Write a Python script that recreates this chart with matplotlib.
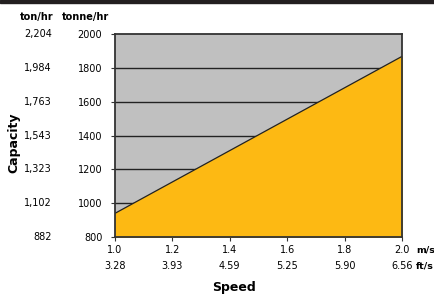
import numpy as np
import matplotlib.pyplot as plt
import matplotlib.transforms as mtrans
from matplotlib.patches import Rectangle

# data
speed_ms = [1.0, 1.2, 1.4, 1.6, 1.8, 2.0]
speed_fts = ['3.28', '3.93', '4.59', '5.25', '5.90', '6.56']
tonne_ticks = [800, 1000, 1200, 1400, 1600, 1800, 2000]
ton_labels = ['882', '1,102', '1,323', '1,543', '1,763', '1,984', '2,204']
line_x = [1.0, 2.0]
line_y = [940, 1868]

plt.rcParams['font.family'] = 'DejaVu Sans'
fs = 7

fig = plt.figure(figsize=(4.35, 2.99), dpi=100)
ax = fig.add_axes([0.264, 0.207, 0.66, 0.679])

ax.set_facecolor('#c0c0c0')
ax.fill_between(line_x, line_y, 800, color='#fdb913', zorder=3)
ax.plot(line_x, line_y, color='#222222', lw=0.9, zorder=4)
for v in tonne_ticks[1:-1]:
    ax.axhline(v, color='#222222', lw=1.0, zorder=2)

ax.set_xlim(1.0, 2.0)
ax.set_ylim(800, 2000)

for s in ['left', 'top', 'right', 'bottom']:
    ax.spines[s].set_color('#333333')
    ax.spines[s].set_linewidth(1.3)
    ax.spines[s].set_zorder(5)

ax.set_yticks(tonne_ticks)
ax.set_yticklabels([str(v) for v in tonne_ticks], fontsize=fs)
ax.set_xticks(speed_ms)
ax.set_xticklabels(['%.1f\n%s' % (a, b) for a, b in zip(speed_ms, speed_fts)],
                   fontsize=fs, linespacing=1.75)
ax.tick_params(axis='y', length=3, width=0.8, pad=6, color='#333333')
ax.tick_params(axis='x', length=3, width=0.8, pad=3, color='#333333')

# second y label column (ton/hr)
ytr = mtrans.blended_transform_factory(fig.transFigure, ax.transData)
for v, lab in zip(tonne_ticks, ton_labels):
    fig.text(52 / 435, v, lab, transform=ytr, ha='right', va='center', fontsize=fs)

fig.text(37 / 435, 1 - 17 / 299, 'ton/hr', ha='center', va='center', fontsize=fs, fontweight='bold')
fig.text(86 / 435, 1 - 17 / 299, 'tonne/hr', ha='center', va='center', fontsize=fs, fontweight='bold')

fig.text(416 / 435, 1 - 250 / 299, 'm/s', ha='left', va='center', fontsize=6.8, fontweight='bold')
fig.text(416 / 435, 1 - 266 / 299, 'ft/s', ha='left', va='center', fontsize=6.8, fontweight='bold')

fig.text(234 / 435, 1 - 288 / 299, 'Speed', ha='center', va='center', fontsize=9, fontweight='bold')
fig.text(14 / 435, 1 - 143 / 299, 'Capacity', ha='center', va='center', fontsize=9,
         fontweight='bold', rotation=90)

# black bar along the top
fig.patches.append(Rectangle((0, 1 - 2.5 / 299), 1, 2.5 / 299, transform=fig.transFigure,
                             color='#231f20', zorder=10))

fig.savefig('out.png', dpi=100)
